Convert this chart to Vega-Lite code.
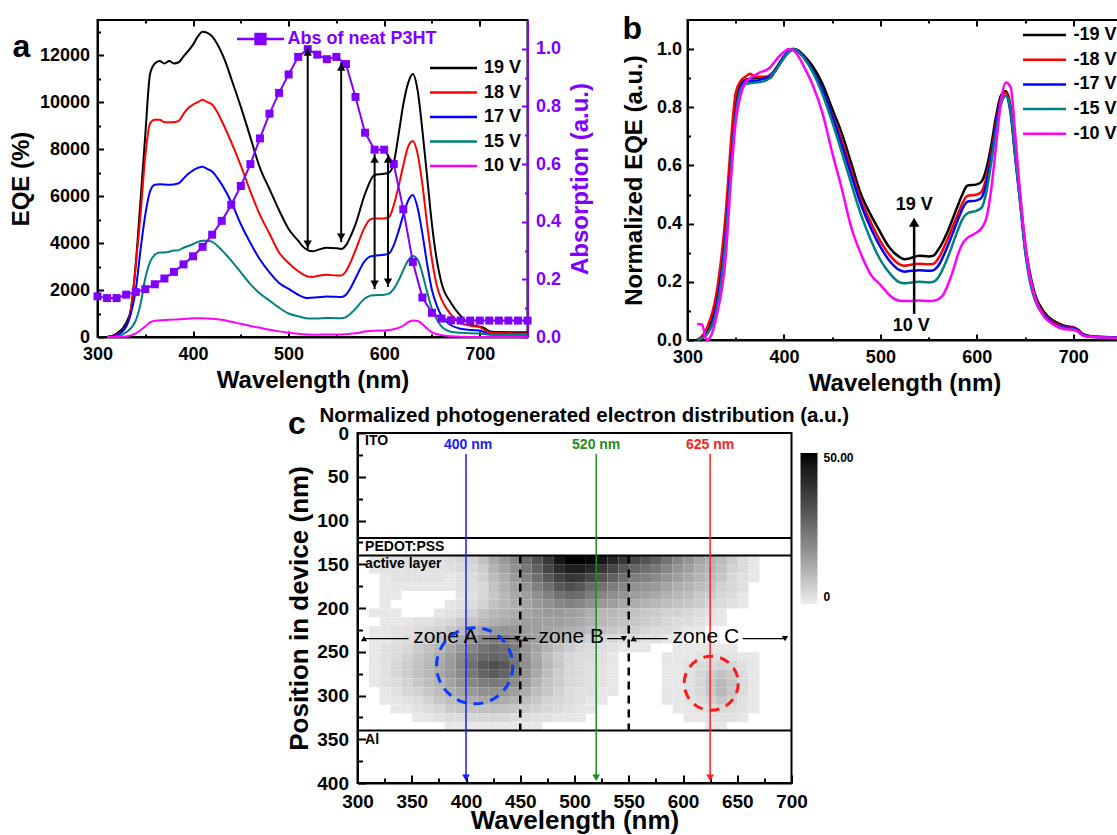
{
"$schema": "https://vega.github.io/schema/vega-lite/v6.json",
"background": "white",
"padding": {"left": 7.5, "top": 12, "right": 0, "bottom": 0},
"config": {
 "font": "Liberation Sans",
 "view": {"stroke": "black", "strokeWidth": 2},
 "axis": {"grid": false, "domainColor": "black", "domainWidth": 2, "tickColor": "black", "tickWidth": 2, "labelFont": "Liberation Sans", "labelFontWeight": "bold", "labelColor": "black", "labelFontSize": 18, "titleFont": "Liberation Sans", "titleFontWeight": "bold", "titleColor": "black", "titleFontSize": 24, "labelOverlap": false, "labelFlush": false},
 "title": {"font": "Liberation Sans", "fontWeight": "bold", "color": "black"}
},
"datasets": {
 "eqe": [
  {"w":310,"s":"19 V","e":0},{"w":320,"s":"19 V","e":150},{"w":330,"s":"19 V","e":600},{"w":335,"s":"19 V","e":1200},{"w":340,"s":"19 V","e":3100},{"w":345,"s":"19 V","e":5800},{"w":350,"s":"19 V","e":8600},{"w":355,"s":"19 V","e":11200},{"w":360,"s":"19 V","e":11650},{"w":365,"s":"19 V","e":11750},{"w":370,"s":"19 V","e":11650},{"w":375,"s":"19 V","e":11750},{"w":380,"s":"19 V","e":11650},{"w":385,"s":"19 V","e":11700},{"w":390,"s":"19 V","e":11950},{"w":400,"s":"19 V","e":12450},{"w":405,"s":"19 V","e":12800},{"w":410,"s":"19 V","e":13000},{"w":415,"s":"19 V","e":12950},{"w":420,"s":"19 V","e":12800},{"w":425,"s":"19 V","e":12500},{"w":430,"s":"19 V","e":12100},{"w":435,"s":"19 V","e":11600},{"w":440,"s":"19 V","e":11000},{"w":450,"s":"19 V","e":9800},{"w":460,"s":"19 V","e":8500},{"w":470,"s":"19 V","e":7200},{"w":480,"s":"19 V","e":6300},{"w":490,"s":"19 V","e":5400},{"w":500,"s":"19 V","e":4600},{"w":510,"s":"19 V","e":4100},{"w":515,"s":"19 V","e":3850},{"w":520,"s":"19 V","e":3700},{"w":525,"s":"19 V","e":3650},{"w":530,"s":"19 V","e":3700},{"w":540,"s":"19 V","e":3800},{"w":550,"s":"19 V","e":3780},{"w":555,"s":"19 V","e":3750},{"w":560,"s":"19 V","e":3900},{"w":565,"s":"19 V","e":4300},{"w":570,"s":"19 V","e":4800},{"w":580,"s":"19 V","e":6100},{"w":590,"s":"19 V","e":6900},{"w":600,"s":"19 V","e":6950},{"w":605,"s":"19 V","e":7000},{"w":610,"s":"19 V","e":7400},{"w":615,"s":"19 V","e":8600},{"w":620,"s":"19 V","e":9900},{"w":625,"s":"19 V","e":10800},{"w":630,"s":"19 V","e":11200},{"w":635,"s":"19 V","e":10500},{"w":640,"s":"19 V","e":8800},{"w":645,"s":"19 V","e":6800},{"w":650,"s":"19 V","e":4800},{"w":655,"s":"19 V","e":3300},{"w":660,"s":"19 V","e":2300},{"w":670,"s":"19 V","e":1450},{"w":680,"s":"19 V","e":900},{"w":690,"s":"19 V","e":550},{"w":700,"s":"19 V","e":440},{"w":705,"s":"19 V","e":380},{"w":710,"s":"19 V","e":250},{"w":720,"s":"19 V","e":210},{"w":750,"s":"19 V","e":200},
  {"w":310,"s":"18 V","e":0},{"w":320,"s":"18 V","e":100},{"w":330,"s":"18 V","e":450},{"w":335,"s":"18 V","e":1200},{"w":340,"s":"18 V","e":3000},{"w":345,"s":"18 V","e":5200},{"w":350,"s":"18 V","e":7700},{"w":355,"s":"18 V","e":9100},{"w":360,"s":"18 V","e":9250},{"w":365,"s":"18 V","e":9250},{"w":370,"s":"18 V","e":9150},{"w":380,"s":"18 V","e":9150},{"w":385,"s":"18 V","e":9200},{"w":390,"s":"18 V","e":9500},{"w":395,"s":"18 V","e":9750},{"w":400,"s":"18 V","e":9900},{"w":405,"s":"18 V","e":10000},{"w":410,"s":"18 V","e":10100},{"w":415,"s":"18 V","e":10000},{"w":420,"s":"18 V","e":9900},{"w":425,"s":"18 V","e":9600},{"w":430,"s":"18 V","e":9200},{"w":440,"s":"18 V","e":8300},{"w":450,"s":"18 V","e":7300},{"w":460,"s":"18 V","e":6200},{"w":470,"s":"18 V","e":5200},{"w":480,"s":"18 V","e":4400},{"w":490,"s":"18 V","e":3600},{"w":500,"s":"18 V","e":3150},{"w":510,"s":"18 V","e":2800},{"w":520,"s":"18 V","e":2580},{"w":525,"s":"18 V","e":2560},{"w":530,"s":"18 V","e":2600},{"w":540,"s":"18 V","e":2650},{"w":550,"s":"18 V","e":2620},{"w":555,"s":"18 V","e":2620},{"w":560,"s":"18 V","e":2800},{"w":565,"s":"18 V","e":3200},{"w":570,"s":"18 V","e":3700},{"w":580,"s":"18 V","e":4700},{"w":585,"s":"18 V","e":5000},{"w":590,"s":"18 V","e":5050},{"w":600,"s":"18 V","e":5050},{"w":605,"s":"18 V","e":5100},{"w":610,"s":"18 V","e":5600},{"w":615,"s":"18 V","e":6400},{"w":620,"s":"18 V","e":7300},{"w":625,"s":"18 V","e":8100},{"w":630,"s":"18 V","e":8350},{"w":635,"s":"18 V","e":7800},{"w":640,"s":"18 V","e":6500},{"w":645,"s":"18 V","e":4800},{"w":650,"s":"18 V","e":3300},{"w":655,"s":"18 V","e":2200},{"w":660,"s":"18 V","e":1600},{"w":670,"s":"18 V","e":950},{"w":680,"s":"18 V","e":600},{"w":690,"s":"18 V","e":480},{"w":700,"s":"18 V","e":420},{"w":705,"s":"18 V","e":300},{"w":710,"s":"18 V","e":200},{"w":720,"s":"18 V","e":170},{"w":750,"s":"18 V","e":150},
  {"w":310,"s":"17 V","e":0},{"w":320,"s":"17 V","e":80},{"w":330,"s":"17 V","e":450},{"w":335,"s":"17 V","e":1000},{"w":340,"s":"17 V","e":2000},{"w":345,"s":"17 V","e":3700},{"w":350,"s":"17 V","e":5200},{"w":355,"s":"17 V","e":6200},{"w":360,"s":"17 V","e":6480},{"w":365,"s":"17 V","e":6500},{"w":375,"s":"17 V","e":6480},{"w":385,"s":"17 V","e":6550},{"w":390,"s":"17 V","e":6750},{"w":395,"s":"17 V","e":6950},{"w":400,"s":"17 V","e":7100},{"w":405,"s":"17 V","e":7200},{"w":410,"s":"17 V","e":7250},{"w":415,"s":"17 V","e":7150},{"w":420,"s":"17 V","e":7050},{"w":425,"s":"17 V","e":6800},{"w":430,"s":"17 V","e":6500},{"w":440,"s":"17 V","e":5750},{"w":450,"s":"17 V","e":4800},{"w":460,"s":"17 V","e":4000},{"w":470,"s":"17 V","e":3300},{"w":480,"s":"17 V","e":2750},{"w":490,"s":"17 V","e":2300},{"w":500,"s":"17 V","e":2050},{"w":510,"s":"17 V","e":1800},{"w":520,"s":"17 V","e":1660},{"w":530,"s":"17 V","e":1690},{"w":540,"s":"17 V","e":1730},{"w":550,"s":"17 V","e":1710},{"w":555,"s":"17 V","e":1700},{"w":560,"s":"17 V","e":1800},{"w":565,"s":"17 V","e":2100},{"w":570,"s":"17 V","e":2500},{"w":580,"s":"17 V","e":3250},{"w":585,"s":"17 V","e":3420},{"w":590,"s":"17 V","e":3460},{"w":600,"s":"17 V","e":3500},{"w":605,"s":"17 V","e":3550},{"w":610,"s":"17 V","e":3900},{"w":615,"s":"17 V","e":4500},{"w":620,"s":"17 V","e":5200},{"w":625,"s":"17 V","e":5800},{"w":630,"s":"17 V","e":6050},{"w":635,"s":"17 V","e":5500},{"w":640,"s":"17 V","e":4400},{"w":645,"s":"17 V","e":3100},{"w":650,"s":"17 V","e":2000},{"w":655,"s":"17 V","e":1350},{"w":660,"s":"17 V","e":900},{"w":670,"s":"17 V","e":500},{"w":680,"s":"17 V","e":350},{"w":690,"s":"17 V","e":300},{"w":700,"s":"17 V","e":280},{"w":705,"s":"17 V","e":200},{"w":710,"s":"17 V","e":120},{"w":720,"s":"17 V","e":100},{"w":750,"s":"17 V","e":80},
  {"w":310,"s":"15 V","e":0},{"w":320,"s":"15 V","e":30},{"w":330,"s":"15 V","e":200},{"w":340,"s":"15 V","e":700},{"w":345,"s":"15 V","e":1400},{"w":350,"s":"15 V","e":2500},{"w":355,"s":"15 V","e":3200},{"w":360,"s":"15 V","e":3500},{"w":365,"s":"15 V","e":3600},{"w":370,"s":"15 V","e":3600},{"w":380,"s":"15 V","e":3680},{"w":385,"s":"15 V","e":3700},{"w":390,"s":"15 V","e":3800},{"w":400,"s":"15 V","e":3950},{"w":405,"s":"15 V","e":4050},{"w":410,"s":"15 V","e":4100},{"w":415,"s":"15 V","e":4100},{"w":420,"s":"15 V","e":4050},{"w":430,"s":"15 V","e":3700},{"w":440,"s":"15 V","e":3250},{"w":450,"s":"15 V","e":2750},{"w":460,"s":"15 V","e":2250},{"w":470,"s":"15 V","e":1850},{"w":480,"s":"15 V","e":1550},{"w":490,"s":"15 V","e":1250},{"w":500,"s":"15 V","e":1000},{"w":510,"s":"15 V","e":880},{"w":520,"s":"15 V","e":790},{"w":530,"s":"15 V","e":790},{"w":540,"s":"15 V","e":810},{"w":550,"s":"15 V","e":800},{"w":555,"s":"15 V","e":800},{"w":560,"s":"15 V","e":850},{"w":565,"s":"15 V","e":1000},{"w":570,"s":"15 V","e":1200},{"w":580,"s":"15 V","e":1650},{"w":585,"s":"15 V","e":1750},{"w":590,"s":"15 V","e":1780},{"w":600,"s":"15 V","e":1800},{"w":605,"s":"15 V","e":1850},{"w":610,"s":"15 V","e":2050},{"w":615,"s":"15 V","e":2400},{"w":620,"s":"15 V","e":2850},{"w":625,"s":"15 V","e":3250},{"w":630,"s":"15 V","e":3450},{"w":635,"s":"15 V","e":3300},{"w":640,"s":"15 V","e":2700},{"w":645,"s":"15 V","e":1900},{"w":650,"s":"15 V","e":1200},{"w":655,"s":"15 V","e":750},{"w":660,"s":"15 V","e":450},{"w":670,"s":"15 V","e":220},{"w":680,"s":"15 V","e":180},{"w":700,"s":"15 V","e":150},{"w":710,"s":"15 V","e":100},{"w":750,"s":"15 V","e":80},
  {"w":310,"s":"10 V","e":0},{"w":320,"s":"10 V","e":0},{"w":330,"s":"10 V","e":20},{"w":340,"s":"10 V","e":150},{"w":350,"s":"10 V","e":450},{"w":355,"s":"10 V","e":620},{"w":360,"s":"10 V","e":690},{"w":370,"s":"10 V","e":720},{"w":380,"s":"10 V","e":740},{"w":390,"s":"10 V","e":770},{"w":400,"s":"10 V","e":800},{"w":410,"s":"10 V","e":800},{"w":420,"s":"10 V","e":780},{"w":430,"s":"10 V","e":730},{"w":440,"s":"10 V","e":650},{"w":450,"s":"10 V","e":560},{"w":460,"s":"10 V","e":470},{"w":470,"s":"10 V","e":390},{"w":480,"s":"10 V","e":310},{"w":490,"s":"10 V","e":240},{"w":500,"s":"10 V","e":180},{"w":510,"s":"10 V","e":140},{"w":520,"s":"10 V","e":110},{"w":530,"s":"10 V","e":100},{"w":540,"s":"10 V","e":105},{"w":550,"s":"10 V","e":105},{"w":560,"s":"10 V","e":120},{"w":570,"s":"10 V","e":160},{"w":580,"s":"10 V","e":230},{"w":590,"s":"10 V","e":270},{"w":600,"s":"10 V","e":280},{"w":610,"s":"10 V","e":330},{"w":620,"s":"10 V","e":480},{"w":625,"s":"10 V","e":630},{"w":630,"s":"10 V","e":700},{"w":635,"s":"10 V","e":680},{"w":640,"s":"10 V","e":550},{"w":645,"s":"10 V","e":350},{"w":650,"s":"10 V","e":200},{"w":660,"s":"10 V","e":80},{"w":670,"s":"10 V","e":30},{"w":680,"s":"10 V","e":10},{"w":700,"s":"10 V","e":0},{"w":750,"s":"10 V","e":0}
 ],
 "abs": [
  {"w":300,"a":0.141},{"w":310,"a":0.135},{"w":320,"a":0.135},{"w":330,"a":0.147},{"w":340,"a":0.156},{"w":350,"a":0.166},{"w":360,"a":0.183},{"w":370,"a":0.203},{"w":380,"a":0.226},{"w":390,"a":0.252},{"w":400,"a":0.28},{"w":410,"a":0.313},{"w":420,"a":0.355},{"w":430,"a":0.403},{"w":440,"a":0.459},{"w":450,"a":0.524},{"w":460,"a":0.6},{"w":470,"a":0.689},{"w":480,"a":0.775},{"w":490,"a":0.847},{"w":500,"a":0.911},{"w":510,"a":0.972},{"w":520,"a":0.999},{"w":530,"a":0.98},{"w":540,"a":0.964},{"w":550,"a":0.972},{"w":560,"a":0.947},{"w":570,"a":0.833},{"w":580,"a":0.709},{"w":590,"a":0.65},{"w":600,"a":0.65},{"w":610,"a":0.6},{"w":620,"a":0.443},{"w":630,"a":0.26},{"w":640,"a":0.137},{"w":650,"a":0.084},{"w":660,"a":0.064},{"w":670,"a":0.058},{"w":680,"a":0.057},{"w":690,"a":0.057},{"w":700,"a":0.057},{"w":710,"a":0.057},{"w":720,"a":0.057},{"w":730,"a":0.057},{"w":740,"a":0.057},{"w":750,"a":0.057}
 ],
 "norm": [
  {"w":310,"s":"-19 V","n":0},{"w":320,"s":"-19 V","n":0.03},{"w":330,"s":"-19 V","n":0.14},{"w":340,"s":"-19 V","n":0.36},{"w":345,"s":"-19 V","n":0.6},{"w":350,"s":"-19 V","n":0.8},{"w":355,"s":"-19 V","n":0.88},{"w":360,"s":"-19 V","n":0.895},{"w":370,"s":"-19 V","n":0.9},{"w":380,"s":"-19 V","n":0.9},{"w":385,"s":"-19 V","n":0.9},{"w":390,"s":"-19 V","n":0.92},{"w":395,"s":"-19 V","n":0.945},{"w":400,"s":"-19 V","n":0.97},{"w":405,"s":"-19 V","n":0.99},{"w":410,"s":"-19 V","n":1.0},{"w":415,"s":"-19 V","n":0.995},{"w":420,"s":"-19 V","n":0.98},{"w":430,"s":"-19 V","n":0.94},{"w":440,"s":"-19 V","n":0.88},{"w":450,"s":"-19 V","n":0.795},{"w":460,"s":"-19 V","n":0.71},{"w":470,"s":"-19 V","n":0.605},{"w":480,"s":"-19 V","n":0.5},{"w":490,"s":"-19 V","n":0.43},{"w":500,"s":"-19 V","n":0.37},{"w":505,"s":"-19 V","n":0.34},{"w":510,"s":"-19 V","n":0.315},{"w":520,"s":"-19 V","n":0.285},{"w":525,"s":"-19 V","n":0.278},{"w":530,"s":"-19 V","n":0.28},{"w":540,"s":"-19 V","n":0.29},{"w":550,"s":"-19 V","n":0.287},{"w":555,"s":"-19 V","n":0.29},{"w":560,"s":"-19 V","n":0.31},{"w":570,"s":"-19 V","n":0.375},{"w":580,"s":"-19 V","n":0.46},{"w":585,"s":"-19 V","n":0.5},{"w":590,"s":"-19 V","n":0.53},{"w":600,"s":"-19 V","n":0.535},{"w":605,"s":"-19 V","n":0.545},{"w":610,"s":"-19 V","n":0.59},{"w":615,"s":"-19 V","n":0.67},{"w":620,"s":"-19 V","n":0.77},{"w":625,"s":"-19 V","n":0.84},{"w":630,"s":"-19 V","n":0.855},{"w":635,"s":"-19 V","n":0.8},{"w":640,"s":"-19 V","n":0.64},{"w":645,"s":"-19 V","n":0.49},{"w":650,"s":"-19 V","n":0.33},{"w":655,"s":"-19 V","n":0.23},{"w":660,"s":"-19 V","n":0.16},{"w":670,"s":"-19 V","n":0.095},{"w":680,"s":"-19 V","n":0.065},{"w":690,"s":"-19 V","n":0.05},{"w":700,"s":"-19 V","n":0.042},{"w":705,"s":"-19 V","n":0.035},{"w":710,"s":"-19 V","n":0.02},{"w":720,"s":"-19 V","n":0.012},{"w":750,"s":"-19 V","n":0.008},
  {"w":310,"s":"-18 V","n":0},{"w":320,"s":"-18 V","n":0.04},{"w":330,"s":"-18 V","n":0.16},{"w":340,"s":"-18 V","n":0.45},{"w":345,"s":"-18 V","n":0.68},{"w":350,"s":"-18 V","n":0.85},{"w":355,"s":"-18 V","n":0.89},{"w":360,"s":"-18 V","n":0.905},{"w":365,"s":"-18 V","n":0.915},{"w":370,"s":"-18 V","n":0.905},{"w":380,"s":"-18 V","n":0.905},{"w":385,"s":"-18 V","n":0.91},{"w":390,"s":"-18 V","n":0.925},{"w":395,"s":"-18 V","n":0.95},{"w":400,"s":"-18 V","n":0.975},{"w":405,"s":"-18 V","n":0.995},{"w":410,"s":"-18 V","n":1.0},{"w":415,"s":"-18 V","n":0.99},{"w":420,"s":"-18 V","n":0.975},{"w":430,"s":"-18 V","n":0.925},{"w":440,"s":"-18 V","n":0.86},{"w":450,"s":"-18 V","n":0.775},{"w":460,"s":"-18 V","n":0.685},{"w":470,"s":"-18 V","n":0.58},{"w":480,"s":"-18 V","n":0.48},{"w":490,"s":"-18 V","n":0.405},{"w":500,"s":"-18 V","n":0.34},{"w":510,"s":"-18 V","n":0.29},{"w":520,"s":"-18 V","n":0.26},{"w":525,"s":"-18 V","n":0.255},{"w":530,"s":"-18 V","n":0.258},{"w":540,"s":"-18 V","n":0.262},{"w":550,"s":"-18 V","n":0.26},{"w":555,"s":"-18 V","n":0.262},{"w":560,"s":"-18 V","n":0.28},{"w":570,"s":"-18 V","n":0.35},{"w":580,"s":"-18 V","n":0.43},{"w":585,"s":"-18 V","n":0.47},{"w":590,"s":"-18 V","n":0.495},{"w":600,"s":"-18 V","n":0.5},{"w":605,"s":"-18 V","n":0.51},{"w":610,"s":"-18 V","n":0.56},{"w":615,"s":"-18 V","n":0.645},{"w":620,"s":"-18 V","n":0.75},{"w":625,"s":"-18 V","n":0.83},{"w":630,"s":"-18 V","n":0.85},{"w":635,"s":"-18 V","n":0.79},{"w":640,"s":"-18 V","n":0.63},{"w":645,"s":"-18 V","n":0.48},{"w":650,"s":"-18 V","n":0.32},{"w":655,"s":"-18 V","n":0.22},{"w":660,"s":"-18 V","n":0.15},{"w":670,"s":"-18 V","n":0.088},{"w":680,"s":"-18 V","n":0.06},{"w":690,"s":"-18 V","n":0.046},{"w":700,"s":"-18 V","n":0.045},{"w":705,"s":"-18 V","n":0.035},{"w":710,"s":"-18 V","n":0.02},{"w":720,"s":"-18 V","n":0.012},{"w":750,"s":"-18 V","n":0.008},
  {"w":310,"s":"-17 V","n":0},{"w":320,"s":"-17 V","n":0.02},{"w":330,"s":"-17 V","n":0.12},{"w":340,"s":"-17 V","n":0.38},{"w":345,"s":"-17 V","n":0.6},{"w":350,"s":"-17 V","n":0.78},{"w":355,"s":"-17 V","n":0.87},{"w":360,"s":"-17 V","n":0.89},{"w":370,"s":"-17 V","n":0.89},{"w":380,"s":"-17 V","n":0.9},{"w":385,"s":"-17 V","n":0.905},{"w":390,"s":"-17 V","n":0.925},{"w":395,"s":"-17 V","n":0.95},{"w":400,"s":"-17 V","n":0.975},{"w":405,"s":"-17 V","n":0.993},{"w":410,"s":"-17 V","n":1.0},{"w":415,"s":"-17 V","n":0.992},{"w":420,"s":"-17 V","n":0.975},{"w":430,"s":"-17 V","n":0.925},{"w":440,"s":"-17 V","n":0.86},{"w":450,"s":"-17 V","n":0.77},{"w":460,"s":"-17 V","n":0.67},{"w":470,"s":"-17 V","n":0.565},{"w":480,"s":"-17 V","n":0.465},{"w":490,"s":"-17 V","n":0.385},{"w":500,"s":"-17 V","n":0.32},{"w":510,"s":"-17 V","n":0.27},{"w":520,"s":"-17 V","n":0.24},{"w":525,"s":"-17 V","n":0.235},{"w":530,"s":"-17 V","n":0.237},{"w":540,"s":"-17 V","n":0.24},{"w":550,"s":"-17 V","n":0.238},{"w":555,"s":"-17 V","n":0.24},{"w":560,"s":"-17 V","n":0.255},{"w":570,"s":"-17 V","n":0.325},{"w":580,"s":"-17 V","n":0.41},{"w":585,"s":"-17 V","n":0.45},{"w":590,"s":"-17 V","n":0.475},{"w":600,"s":"-17 V","n":0.48},{"w":605,"s":"-17 V","n":0.49},{"w":610,"s":"-17 V","n":0.54},{"w":615,"s":"-17 V","n":0.63},{"w":620,"s":"-17 V","n":0.74},{"w":625,"s":"-17 V","n":0.82},{"w":630,"s":"-17 V","n":0.84},{"w":635,"s":"-17 V","n":0.78},{"w":640,"s":"-17 V","n":0.62},{"w":645,"s":"-17 V","n":0.47},{"w":650,"s":"-17 V","n":0.31},{"w":655,"s":"-17 V","n":0.21},{"w":660,"s":"-17 V","n":0.145},{"w":670,"s":"-17 V","n":0.083},{"w":680,"s":"-17 V","n":0.056},{"w":690,"s":"-17 V","n":0.043},{"w":700,"s":"-17 V","n":0.042},{"w":705,"s":"-17 V","n":0.032},{"w":710,"s":"-17 V","n":0.018},{"w":720,"s":"-17 V","n":0.011},{"w":750,"s":"-17 V","n":0.008},
  {"w":310,"s":"-15 V","n":0},{"w":320,"s":"-15 V","n":0.02},{"w":330,"s":"-15 V","n":0.1},{"w":340,"s":"-15 V","n":0.36},{"w":345,"s":"-15 V","n":0.58},{"w":350,"s":"-15 V","n":0.77},{"w":355,"s":"-15 V","n":0.86},{"w":360,"s":"-15 V","n":0.88},{"w":370,"s":"-15 V","n":0.885},{"w":380,"s":"-15 V","n":0.89},{"w":385,"s":"-15 V","n":0.9},{"w":390,"s":"-15 V","n":0.92},{"w":395,"s":"-15 V","n":0.945},{"w":400,"s":"-15 V","n":0.97},{"w":405,"s":"-15 V","n":0.99},{"w":410,"s":"-15 V","n":1.0},{"w":415,"s":"-15 V","n":0.99},{"w":420,"s":"-15 V","n":0.972},{"w":430,"s":"-15 V","n":0.92},{"w":440,"s":"-15 V","n":0.845},{"w":450,"s":"-15 V","n":0.75},{"w":460,"s":"-15 V","n":0.645},{"w":470,"s":"-15 V","n":0.535},{"w":480,"s":"-15 V","n":0.43},{"w":490,"s":"-15 V","n":0.345},{"w":500,"s":"-15 V","n":0.275},{"w":510,"s":"-15 V","n":0.228},{"w":520,"s":"-15 V","n":0.198},{"w":525,"s":"-15 V","n":0.195},{"w":530,"s":"-15 V","n":0.197},{"w":540,"s":"-15 V","n":0.2},{"w":550,"s":"-15 V","n":0.198},{"w":555,"s":"-15 V","n":0.2},{"w":560,"s":"-15 V","n":0.215},{"w":570,"s":"-15 V","n":0.285},{"w":580,"s":"-15 V","n":0.375},{"w":585,"s":"-15 V","n":0.415},{"w":590,"s":"-15 V","n":0.435},{"w":600,"s":"-15 V","n":0.445},{"w":605,"s":"-15 V","n":0.455},{"w":610,"s":"-15 V","n":0.51},{"w":615,"s":"-15 V","n":0.61},{"w":620,"s":"-15 V","n":0.72},{"w":625,"s":"-15 V","n":0.81},{"w":630,"s":"-15 V","n":0.84},{"w":635,"s":"-15 V","n":0.79},{"w":640,"s":"-15 V","n":0.63},{"w":645,"s":"-15 V","n":0.47},{"w":650,"s":"-15 V","n":0.31},{"w":655,"s":"-15 V","n":0.2},{"w":660,"s":"-15 V","n":0.14},{"w":670,"s":"-15 V","n":0.08},{"w":680,"s":"-15 V","n":0.053},{"w":690,"s":"-15 V","n":0.04},{"w":700,"s":"-15 V","n":0.038},{"w":705,"s":"-15 V","n":0.03},{"w":710,"s":"-15 V","n":0.016},{"w":720,"s":"-15 V","n":0.01},{"w":750,"s":"-15 V","n":0.007},
  {"w":310,"s":"-10 V","n":0.055},{"w":315,"s":"-10 V","n":0.053},{"w":320,"s":"-10 V","n":0.0},{"w":325,"s":"-10 V","n":0.02},{"w":330,"s":"-10 V","n":0.08},{"w":340,"s":"-10 V","n":0.3},{"w":345,"s":"-10 V","n":0.55},{"w":350,"s":"-10 V","n":0.75},{"w":355,"s":"-10 V","n":0.84},{"w":360,"s":"-10 V","n":0.885},{"w":365,"s":"-10 V","n":0.9},{"w":370,"s":"-10 V","n":0.91},{"w":375,"s":"-10 V","n":0.92},{"w":380,"s":"-10 V","n":0.925},{"w":385,"s":"-10 V","n":0.935},{"w":390,"s":"-10 V","n":0.955},{"w":395,"s":"-10 V","n":0.975},{"w":400,"s":"-10 V","n":0.99},{"w":405,"s":"-10 V","n":1.0},{"w":410,"s":"-10 V","n":0.995},{"w":415,"s":"-10 V","n":0.975},{"w":420,"s":"-10 V","n":0.945},{"w":430,"s":"-10 V","n":0.875},{"w":440,"s":"-10 V","n":0.78},{"w":450,"s":"-10 V","n":0.645},{"w":460,"s":"-10 V","n":0.52},{"w":470,"s":"-10 V","n":0.385},{"w":480,"s":"-10 V","n":0.295},{"w":490,"s":"-10 V","n":0.225},{"w":500,"s":"-10 V","n":0.19},{"w":510,"s":"-10 V","n":0.152},{"w":520,"s":"-10 V","n":0.135},{"w":525,"s":"-10 V","n":0.134},{"w":530,"s":"-10 V","n":0.134},{"w":540,"s":"-10 V","n":0.136},{"w":550,"s":"-10 V","n":0.134},{"w":555,"s":"-10 V","n":0.135},{"w":560,"s":"-10 V","n":0.14},{"w":565,"s":"-10 V","n":0.155},{"w":570,"s":"-10 V","n":0.19},{"w":575,"s":"-10 V","n":0.235},{"w":580,"s":"-10 V","n":0.29},{"w":585,"s":"-10 V","n":0.33},{"w":590,"s":"-10 V","n":0.35},{"w":600,"s":"-10 V","n":0.37},{"w":605,"s":"-10 V","n":0.385},{"w":610,"s":"-10 V","n":0.42},{"w":615,"s":"-10 V","n":0.52},{"w":620,"s":"-10 V","n":0.67},{"w":625,"s":"-10 V","n":0.82},{"w":630,"s":"-10 V","n":0.885},{"w":635,"s":"-10 V","n":0.87},{"w":640,"s":"-10 V","n":0.7},{"w":645,"s":"-10 V","n":0.5},{"w":650,"s":"-10 V","n":0.34},{"w":655,"s":"-10 V","n":0.22},{"w":660,"s":"-10 V","n":0.15},{"w":670,"s":"-10 V","n":0.08},{"w":680,"s":"-10 V","n":0.052},{"w":690,"s":"-10 V","n":0.038},{"w":700,"s":"-10 V","n":0.035},{"w":705,"s":"-10 V","n":0.028},{"w":710,"s":"-10 V","n":0.015},{"w":720,"s":"-10 V","n":0.01},{"w":750,"s":"-10 V","n":0.007}
 ],
 "heat": [
  {"w":310,"p":140,"v":1},{"w":320,"p":140,"v":2},{"w":330,"p":140,"v":2},{"w":340,"p":140,"v":2},{"w":350,"p":140,"v":2},{"w":360,"p":140,"v":2},{"w":370,"p":140,"v":2},{"w":380,"p":140,"v":3},{"w":390,"p":140,"v":4},{"w":400,"p":140,"v":5},{"w":410,"p":140,"v":8},{"w":420,"p":140,"v":13},{"w":430,"p":140,"v":16},{"w":440,"p":140,"v":20},{"w":450,"p":140,"v":26},{"w":460,"p":140,"v":31},{"w":470,"p":140,"v":37},{"w":480,"p":140,"v":46},{"w":490,"p":140,"v":50},{"w":500,"p":140,"v":50},{"w":510,"p":140,"v":49},{"w":520,"p":140,"v":46},{"w":530,"p":140,"v":42},{"w":540,"p":140,"v":38},{"w":550,"p":140,"v":34},{"w":560,"p":140,"v":31},{"w":570,"p":140,"v":28},{"w":580,"p":140,"v":24},{"w":590,"p":140,"v":20},{"w":600,"p":140,"v":17},{"w":610,"p":140,"v":14},{"w":620,"p":140,"v":11},{"w":630,"p":140,"v":9},{"w":640,"p":140,"v":6},{"w":650,"p":140,"v":3},{"w":660,"p":140,"v":1},
  {"w":310,"p":150,"v":1},{"w":320,"p":150,"v":2},{"w":330,"p":150,"v":2},{"w":340,"p":150,"v":2},{"w":350,"p":150,"v":2},{"w":360,"p":150,"v":2},{"w":370,"p":150,"v":2},{"w":380,"p":150,"v":2},{"w":390,"p":150,"v":3},{"w":400,"p":150,"v":4},{"w":410,"p":150,"v":6},{"w":420,"p":150,"v":11},{"w":430,"p":150,"v":14},{"w":440,"p":150,"v":18},{"w":450,"p":150,"v":23},{"w":460,"p":150,"v":28},{"w":470,"p":150,"v":34},{"w":480,"p":150,"v":40},{"w":490,"p":150,"v":44},{"w":500,"p":150,"v":44},{"w":510,"p":150,"v":42},{"w":520,"p":150,"v":38},{"w":530,"p":150,"v":34},{"w":540,"p":150,"v":30},{"w":550,"p":150,"v":27},{"w":560,"p":150,"v":25},{"w":570,"p":150,"v":23},{"w":580,"p":150,"v":20},{"w":590,"p":150,"v":17},{"w":600,"p":150,"v":15},{"w":610,"p":150,"v":12},{"w":620,"p":150,"v":10},{"w":630,"p":150,"v":8},{"w":640,"p":150,"v":5},{"w":650,"p":150,"v":3},{"w":660,"p":150,"v":1},
  {"w":320,"p":160,"v":1},{"w":330,"p":160,"v":2},{"w":340,"p":160,"v":2},{"w":350,"p":160,"v":2},{"w":360,"p":160,"v":2},{"w":370,"p":160,"v":2},{"w":380,"p":160,"v":1},{"w":390,"p":160,"v":2},{"w":400,"p":160,"v":3},{"w":410,"p":160,"v":5},{"w":420,"p":160,"v":9},{"w":430,"p":160,"v":12},{"w":440,"p":160,"v":16},{"w":450,"p":160,"v":20},{"w":460,"p":160,"v":25},{"w":470,"p":160,"v":30},{"w":480,"p":160,"v":35},{"w":490,"p":160,"v":38},{"w":500,"p":160,"v":37},{"w":510,"p":160,"v":34},{"w":520,"p":160,"v":31},{"w":530,"p":160,"v":28},{"w":540,"p":160,"v":25},{"w":550,"p":160,"v":22},{"w":560,"p":160,"v":21},{"w":570,"p":160,"v":19},{"w":580,"p":160,"v":17},{"w":590,"p":160,"v":15},{"w":600,"p":160,"v":13},{"w":610,"p":160,"v":11},{"w":620,"p":160,"v":9},{"w":630,"p":160,"v":7},{"w":640,"p":160,"v":4},{"w":650,"p":160,"v":2},{"w":660,"p":160,"v":1},
  {"w":320,"p":170,"v":1},{"w":330,"p":170,"v":1},{"w":340,"p":170,"v":1},{"w":350,"p":170,"v":1},{"w":360,"p":170,"v":1},{"w":370,"p":170,"v":1},{"w":380,"p":170,"v":1},{"w":390,"p":170,"v":2},{"w":400,"p":170,"v":3},{"w":410,"p":170,"v":4},{"w":420,"p":170,"v":8},{"w":430,"p":170,"v":11},{"w":440,"p":170,"v":14},{"w":450,"p":170,"v":17},{"w":460,"p":170,"v":21},{"w":470,"p":170,"v":25},{"w":480,"p":170,"v":30},{"w":490,"p":170,"v":32},{"w":500,"p":170,"v":30},{"w":510,"p":170,"v":26},{"w":520,"p":170,"v":24},{"w":530,"p":170,"v":22},{"w":540,"p":170,"v":20},{"w":550,"p":170,"v":18},{"w":560,"p":170,"v":17},{"w":570,"p":170,"v":16},{"w":580,"p":170,"v":14},{"w":590,"p":170,"v":12},{"w":600,"p":170,"v":11},{"w":610,"p":170,"v":9},{"w":620,"p":170,"v":8},{"w":630,"p":170,"v":5},{"w":640,"p":170,"v":4},{"w":650,"p":170,"v":2},
  {"w":320,"p":180,"v":1},{"w":330,"p":180,"v":1},{"w":390,"p":180,"v":1},{"w":400,"p":180,"v":2},{"w":410,"p":180,"v":4},{"w":420,"p":180,"v":7},{"w":430,"p":180,"v":10},{"w":440,"p":180,"v":13},{"w":450,"p":180,"v":15},{"w":460,"p":180,"v":18},{"w":470,"p":180,"v":21},{"w":480,"p":180,"v":24},{"w":490,"p":180,"v":26},{"w":500,"p":180,"v":25},{"w":510,"p":180,"v":22},{"w":520,"p":180,"v":20},{"w":530,"p":180,"v":18},{"w":540,"p":180,"v":17},{"w":550,"p":180,"v":15},{"w":560,"p":180,"v":14},{"w":570,"p":180,"v":13},{"w":580,"p":180,"v":11},{"w":590,"p":180,"v":10},{"w":600,"p":180,"v":9},{"w":610,"p":180,"v":7},{"w":620,"p":180,"v":6},{"w":630,"p":180,"v":4},{"w":640,"p":180,"v":3},{"w":650,"p":180,"v":1},
  {"w":320,"p":190,"v":1},{"w":380,"p":190,"v":1},{"w":390,"p":190,"v":2},{"w":400,"p":190,"v":3},{"w":410,"p":190,"v":5},{"w":420,"p":190,"v":8},{"w":430,"p":190,"v":10},{"w":440,"p":190,"v":12},{"w":450,"p":190,"v":14},{"w":460,"p":190,"v":16},{"w":470,"p":190,"v":18},{"w":480,"p":190,"v":20},{"w":490,"p":190,"v":21},{"w":500,"p":190,"v":20},{"w":510,"p":190,"v":18},{"w":520,"p":190,"v":16},{"w":530,"p":190,"v":15},{"w":540,"p":190,"v":13},{"w":550,"p":190,"v":12},{"w":560,"p":190,"v":11},{"w":570,"p":190,"v":10},{"w":580,"p":190,"v":9},{"w":590,"p":190,"v":8},{"w":600,"p":190,"v":7},{"w":610,"p":190,"v":6},{"w":620,"p":190,"v":4},{"w":630,"p":190,"v":3},{"w":640,"p":190,"v":2},{"w":650,"p":190,"v":1},
  {"w":310,"p":200,"v":1},{"w":320,"p":200,"v":1},{"w":330,"p":200,"v":1},{"w":370,"p":200,"v":1},{"w":380,"p":200,"v":2},{"w":390,"p":200,"v":3},{"w":400,"p":200,"v":5},{"w":410,"p":200,"v":8},{"w":420,"p":200,"v":10},{"w":430,"p":200,"v":11},{"w":440,"p":200,"v":12},{"w":450,"p":200,"v":14},{"w":460,"p":200,"v":15},{"w":470,"p":200,"v":16},{"w":480,"p":200,"v":16},{"w":490,"p":200,"v":15},{"w":500,"p":200,"v":14},{"w":510,"p":200,"v":12},{"w":520,"p":200,"v":10},{"w":530,"p":200,"v":10},{"w":540,"p":200,"v":9},{"w":550,"p":200,"v":8},{"w":560,"p":200,"v":7},{"w":570,"p":200,"v":6},{"w":580,"p":200,"v":5},{"w":590,"p":200,"v":5},{"w":600,"p":200,"v":4},{"w":610,"p":200,"v":3},{"w":620,"p":200,"v":2},{"w":630,"p":200,"v":1},
  {"w":320,"p":210,"v":1},{"w":330,"p":210,"v":1},{"w":340,"p":210,"v":1},{"w":350,"p":210,"v":2},{"w":360,"p":210,"v":2},{"w":370,"p":210,"v":3},{"w":380,"p":210,"v":4},{"w":390,"p":210,"v":6},{"w":400,"p":210,"v":8},{"w":410,"p":210,"v":10},{"w":420,"p":210,"v":12},{"w":430,"p":210,"v":13},{"w":440,"p":210,"v":14},{"w":450,"p":210,"v":15},{"w":460,"p":210,"v":15},{"w":470,"p":210,"v":15},{"w":480,"p":210,"v":15},{"w":490,"p":210,"v":14},{"w":500,"p":210,"v":13},{"w":510,"p":210,"v":11},{"w":520,"p":210,"v":10},{"w":530,"p":210,"v":9},{"w":540,"p":210,"v":8},{"w":550,"p":210,"v":7},{"w":560,"p":210,"v":6},{"w":570,"p":210,"v":5},{"w":580,"p":210,"v":4},{"w":590,"p":210,"v":3},{"w":600,"p":210,"v":3},{"w":610,"p":210,"v":2},{"w":620,"p":210,"v":1},{"w":630,"p":210,"v":1},
  {"w":310,"p":220,"v":1},{"w":320,"p":220,"v":1},{"w":330,"p":220,"v":2},{"w":340,"p":220,"v":2},{"w":350,"p":220,"v":3},{"w":360,"p":220,"v":4},{"w":370,"p":220,"v":5},{"w":380,"p":220,"v":7},{"w":390,"p":220,"v":9},{"w":400,"p":220,"v":12},{"w":410,"p":220,"v":14},{"w":420,"p":220,"v":16},{"w":430,"p":220,"v":17},{"w":440,"p":220,"v":17},{"w":450,"p":220,"v":16},{"w":460,"p":220,"v":15},{"w":470,"p":220,"v":14},{"w":480,"p":220,"v":13},{"w":490,"p":220,"v":12},{"w":500,"p":220,"v":11},{"w":510,"p":220,"v":9},{"w":520,"p":220,"v":8},{"w":530,"p":220,"v":7},{"w":540,"p":220,"v":6},{"w":550,"p":220,"v":5},{"w":560,"p":220,"v":4},{"w":570,"p":220,"v":3},{"w":580,"p":220,"v":3},{"w":590,"p":220,"v":2},{"w":600,"p":220,"v":1},{"w":610,"p":220,"v":1},
  {"w":310,"p":230,"v":1},{"w":320,"p":230,"v":1},{"w":330,"p":230,"v":2},{"w":340,"p":230,"v":3},{"w":350,"p":230,"v":4},{"w":360,"p":230,"v":6},{"w":370,"p":230,"v":8},{"w":380,"p":230,"v":10},{"w":390,"p":230,"v":13},{"w":400,"p":230,"v":17},{"w":410,"p":230,"v":20},{"w":420,"p":230,"v":22},{"w":430,"p":230,"v":22},{"w":440,"p":230,"v":20},{"w":450,"p":230,"v":17},{"w":460,"p":230,"v":15},{"w":470,"p":230,"v":13},{"w":480,"p":230,"v":11},{"w":490,"p":230,"v":9},{"w":500,"p":230,"v":7},{"w":510,"p":230,"v":5},{"w":520,"p":230,"v":4},{"w":530,"p":230,"v":4},{"w":540,"p":230,"v":3},{"w":550,"p":230,"v":3},{"w":560,"p":230,"v":2},{"w":570,"p":230,"v":2},{"w":580,"p":230,"v":1},{"w":590,"p":230,"v":1},
  {"w":310,"p":240,"v":1},{"w":320,"p":240,"v":2},{"w":330,"p":240,"v":3},{"w":340,"p":240,"v":4},{"w":350,"p":240,"v":6},{"w":360,"p":240,"v":8},{"w":370,"p":240,"v":10},{"w":380,"p":240,"v":13},{"w":390,"p":240,"v":16},{"w":400,"p":240,"v":20},{"w":410,"p":240,"v":24},{"w":420,"p":240,"v":26},{"w":430,"p":240,"v":25},{"w":440,"p":240,"v":22},{"w":450,"p":240,"v":17},{"w":460,"p":240,"v":14},{"w":470,"p":240,"v":11},{"w":480,"p":240,"v":8},{"w":490,"p":240,"v":6},{"w":500,"p":240,"v":4},{"w":510,"p":240,"v":3},{"w":520,"p":240,"v":3},{"w":530,"p":240,"v":2},{"w":540,"p":240,"v":1},{"w":550,"p":240,"v":1},{"w":560,"p":240,"v":1},{"w":590,"p":240,"v":1},{"w":600,"p":240,"v":1},{"w":610,"p":240,"v":1},{"w":620,"p":240,"v":1},{"w":630,"p":240,"v":1},{"w":640,"p":240,"v":1},
  {"w":310,"p":250,"v":1},{"w":320,"p":250,"v":2},{"w":330,"p":250,"v":3},{"w":340,"p":250,"v":5},{"w":350,"p":250,"v":7},{"w":360,"p":250,"v":9},{"w":370,"p":250,"v":12},{"w":380,"p":250,"v":15},{"w":390,"p":250,"v":19},{"w":400,"p":250,"v":23},{"w":410,"p":250,"v":26},{"w":420,"p":250,"v":27},{"w":430,"p":250,"v":26},{"w":440,"p":250,"v":22},{"w":450,"p":250,"v":17},{"w":460,"p":250,"v":13},{"w":470,"p":250,"v":9},{"w":480,"p":250,"v":6},{"w":490,"p":250,"v":4},{"w":500,"p":250,"v":3},{"w":510,"p":250,"v":3},{"w":520,"p":250,"v":2},{"w":530,"p":250,"v":1},{"w":580,"p":250,"v":1},{"w":590,"p":250,"v":1},{"w":600,"p":250,"v":1},{"w":610,"p":250,"v":2},{"w":620,"p":250,"v":2},{"w":630,"p":250,"v":2},{"w":640,"p":250,"v":2},{"w":650,"p":250,"v":1},{"w":660,"p":250,"v":1},
  {"w":310,"p":260,"v":1},{"w":320,"p":260,"v":2},{"w":330,"p":260,"v":4},{"w":340,"p":260,"v":6},{"w":350,"p":260,"v":8},{"w":360,"p":260,"v":10},{"w":370,"p":260,"v":13},{"w":380,"p":260,"v":16},{"w":390,"p":260,"v":20},{"w":400,"p":260,"v":25},{"w":410,"p":260,"v":30},{"w":420,"p":260,"v":32},{"w":430,"p":260,"v":30},{"w":440,"p":260,"v":24},{"w":450,"p":260,"v":18},{"w":460,"p":260,"v":14},{"w":470,"p":260,"v":10},{"w":480,"p":260,"v":7},{"w":490,"p":260,"v":4},{"w":500,"p":260,"v":3},{"w":510,"p":260,"v":2},{"w":520,"p":260,"v":2},{"w":530,"p":260,"v":1},{"w":580,"p":260,"v":1},{"w":590,"p":260,"v":1},{"w":600,"p":260,"v":2},{"w":610,"p":260,"v":3},{"w":620,"p":260,"v":4},{"w":630,"p":260,"v":5},{"w":640,"p":260,"v":4},{"w":650,"p":260,"v":2},{"w":660,"p":260,"v":1},
  {"w":310,"p":270,"v":1},{"w":320,"p":270,"v":2},{"w":330,"p":270,"v":4},{"w":340,"p":270,"v":6},{"w":350,"p":270,"v":8},{"w":360,"p":270,"v":10},{"w":370,"p":270,"v":13},{"w":380,"p":270,"v":16},{"w":390,"p":270,"v":19},{"w":400,"p":270,"v":23},{"w":410,"p":270,"v":27},{"w":420,"p":270,"v":29},{"w":430,"p":270,"v":27},{"w":440,"p":270,"v":22},{"w":450,"p":270,"v":17},{"w":460,"p":270,"v":13},{"w":470,"p":270,"v":9},{"w":480,"p":270,"v":6},{"w":490,"p":270,"v":4},{"w":500,"p":270,"v":3},{"w":510,"p":270,"v":2},{"w":520,"p":270,"v":2},{"w":530,"p":270,"v":1},{"w":580,"p":270,"v":1},{"w":590,"p":270,"v":1},{"w":600,"p":270,"v":2},{"w":610,"p":270,"v":4},{"w":620,"p":270,"v":6},{"w":630,"p":270,"v":8},{"w":640,"p":270,"v":6},{"w":650,"p":270,"v":3},{"w":660,"p":270,"v":1},
  {"w":310,"p":280,"v":1},{"w":320,"p":280,"v":2},{"w":330,"p":280,"v":3},{"w":340,"p":280,"v":5},{"w":350,"p":280,"v":7},{"w":360,"p":280,"v":9},{"w":370,"p":280,"v":11},{"w":380,"p":280,"v":14},{"w":390,"p":280,"v":17},{"w":400,"p":280,"v":20},{"w":410,"p":280,"v":22},{"w":420,"p":280,"v":23},{"w":430,"p":280,"v":22},{"w":440,"p":280,"v":19},{"w":450,"p":280,"v":15},{"w":460,"p":280,"v":11},{"w":470,"p":280,"v":8},{"w":480,"p":280,"v":6},{"w":490,"p":280,"v":4},{"w":500,"p":280,"v":3},{"w":510,"p":280,"v":2},{"w":520,"p":280,"v":2},{"w":530,"p":280,"v":1},{"w":580,"p":280,"v":1},{"w":590,"p":280,"v":1},{"w":600,"p":280,"v":2},{"w":610,"p":280,"v":4},{"w":620,"p":280,"v":7},{"w":630,"p":280,"v":10},{"w":640,"p":280,"v":7},{"w":650,"p":280,"v":3},{"w":660,"p":280,"v":1},
  {"w":320,"p":290,"v":1},{"w":330,"p":290,"v":2},{"w":340,"p":290,"v":4},{"w":350,"p":290,"v":5},{"w":360,"p":290,"v":7},{"w":370,"p":290,"v":9},{"w":380,"p":290,"v":12},{"w":390,"p":290,"v":14},{"w":400,"p":290,"v":16},{"w":410,"p":290,"v":18},{"w":420,"p":290,"v":18},{"w":430,"p":290,"v":17},{"w":440,"p":290,"v":15},{"w":450,"p":290,"v":12},{"w":460,"p":290,"v":9},{"w":470,"p":290,"v":7},{"w":480,"p":290,"v":5},{"w":490,"p":290,"v":3},{"w":500,"p":290,"v":2},{"w":510,"p":290,"v":2},{"w":520,"p":290,"v":1},{"w":530,"p":290,"v":1},{"w":580,"p":290,"v":1},{"w":590,"p":290,"v":1},{"w":600,"p":290,"v":2},{"w":610,"p":290,"v":4},{"w":620,"p":290,"v":7},{"w":630,"p":290,"v":10},{"w":640,"p":290,"v":7},{"w":650,"p":290,"v":3},{"w":660,"p":290,"v":1},
  {"w":320,"p":300,"v":1},{"w":330,"p":300,"v":1},{"w":340,"p":300,"v":2},{"w":350,"p":300,"v":3},{"w":360,"p":300,"v":5},{"w":370,"p":300,"v":7},{"w":380,"p":300,"v":9},{"w":390,"p":300,"v":11},{"w":400,"p":300,"v":12},{"w":410,"p":300,"v":13},{"w":420,"p":300,"v":13},{"w":430,"p":300,"v":12},{"w":440,"p":300,"v":11},{"w":450,"p":300,"v":9},{"w":460,"p":300,"v":7},{"w":470,"p":300,"v":5},{"w":480,"p":300,"v":4},{"w":490,"p":300,"v":3},{"w":500,"p":300,"v":2},{"w":510,"p":300,"v":1},{"w":520,"p":300,"v":1},{"w":580,"p":300,"v":1},{"w":590,"p":300,"v":1},{"w":600,"p":300,"v":2},{"w":610,"p":300,"v":3},{"w":620,"p":300,"v":5},{"w":630,"p":300,"v":7},{"w":640,"p":300,"v":5},{"w":650,"p":300,"v":2},{"w":660,"p":300,"v":1},
  {"w":330,"p":310,"v":1},{"w":340,"p":310,"v":1},{"w":350,"p":310,"v":2},{"w":360,"p":310,"v":3},{"w":370,"p":310,"v":4},{"w":380,"p":310,"v":6},{"w":390,"p":310,"v":7},{"w":400,"p":310,"v":8},{"w":410,"p":310,"v":8},{"w":420,"p":310,"v":8},{"w":430,"p":310,"v":8},{"w":440,"p":310,"v":7},{"w":450,"p":310,"v":6},{"w":460,"p":310,"v":5},{"w":470,"p":310,"v":4},{"w":480,"p":310,"v":3},{"w":490,"p":310,"v":2},{"w":500,"p":310,"v":1},{"w":510,"p":310,"v":1},{"w":590,"p":310,"v":1},{"w":600,"p":310,"v":1},{"w":610,"p":310,"v":2},{"w":620,"p":310,"v":3},{"w":630,"p":310,"v":4},{"w":640,"p":310,"v":3},{"w":650,"p":310,"v":2},{"w":660,"p":310,"v":1},
  {"w":350,"p":320,"v":1},{"w":360,"p":320,"v":1},{"w":370,"p":320,"v":2},{"w":380,"p":320,"v":3},{"w":390,"p":320,"v":3},{"w":400,"p":320,"v":4},{"w":410,"p":320,"v":4},{"w":420,"p":320,"v":4},{"w":430,"p":320,"v":4},{"w":440,"p":320,"v":3},{"w":450,"p":320,"v":3},{"w":460,"p":320,"v":2},{"w":470,"p":320,"v":2},{"w":480,"p":320,"v":1},{"w":490,"p":320,"v":1},{"w":500,"p":320,"v":1},{"w":600,"p":320,"v":1},{"w":610,"p":320,"v":1},{"w":620,"p":320,"v":2},{"w":630,"p":320,"v":2},{"w":640,"p":320,"v":2},{"w":650,"p":320,"v":1},
  {"w":380,"p":330,"v":1},{"w":390,"p":330,"v":1},{"w":400,"p":330,"v":1},{"w":410,"p":330,"v":1},{"w":420,"p":330,"v":1},{"w":430,"p":330,"v":1},{"w":440,"p":330,"v":1},{"w":450,"p":330,"v":1},{"w":460,"p":330,"v":1},{"w":620,"p":330,"v":1},{"w":630,"p":330,"v":1}
 ]
},
"vconcat": [
 {
  "hconcat": [
   {
    "width": 430, "height": 317,
    "title": {"text": "a", "anchor": "start", "frame": "group", "orient": "top", "offset": 0, "dx": -85, "dy": 70, "baseline": "alphabetic", "fontSize": 32},
    "layer": [
     {
      "data": {"name": "eqe"},
      "mark": {"type": "line", "strokeWidth": 2, "interpolate": "monotone"},
      "encoding": {
       "x": {"field": "w", "type": "quantitative", "scale": {"domain": [300, 750], "nice": false, "zero": false}, "axis": {"orient": "bottom", "values": [300, 400, 500, 600, 700], "tickSize": -6, "labelPadding": 14, "title": "Wavelength (nm)", "titlePadding": 5}},
       "y": {"field": "e", "type": "quantitative", "scale": {"domain": [0, 13500], "nice": false, "zero": false}, "axis": {"orient": "left", "values": [0, 2000, 4000, 6000, 8000, 10000, 12000], "format": "d", "tickSize": -6, "labelPadding": 14, "title": "EQE (%)", "titlePadding": 6}},
       "color": {"field": "s", "type": "nominal", "scale": {"domain": ["19 V", "18 V", "17 V", "15 V", "10 V"], "range": ["#000000", "#ff0000", "#0000ff", "#008080", "#ff00ff"]},
        "legend": {"orient": "none", "legendX": 347, "legendY": 39, "title": null, "symbolType": "M-3.36,0L3.36,0", "symbolSize": 196, "symbolStrokeWidth": 2.5, "labelFont": "Liberation Sans", "labelFontSize": 18, "labelFontWeight": "bold", "labelColor": "black", "labelOffset": 21.5, "rowPadding": 6.5, "padding": 0}}
      }
     },
     {
      "data": {"name": "abs"},
      "mark": {"type": "line", "strokeWidth": 2},
      "encoding": {
       "x": {"field": "w", "type": "quantitative", "scale": {"domain": [300, 750], "nice": false, "zero": false}, "axis": {"orient": "bottom", "values": [350, 450, 550, 650], "tickSize": -3, "labels": false, "domain": false, "title": null}},
       "y": {"field": "a", "type": "quantitative", "scale": {"domain": [0, 1.1], "nice": false, "zero": false}, "axis": {"orient": "right", "values": [0, 0.2, 0.4, 0.6, 0.8, 1.0], "format": ".1f", "tickSize": -6, "labelPadding": 14, "domainColor": "#8000ff", "tickColor": "#8000ff", "labelColor": "#8000ff", "titleColor": "#8000ff", "title": "Absorption (a.u.)", "titleAngle": 270, "titleBaseline": "top", "titlePadding": 8}},
       "color": {"datum": "Abs of neat P3HT", "type": "nominal", "scale": {"range": ["#8000ff"]},
        "legend": {"orient": "none", "legendX": 154, "legendY": 10, "title": null, "symbolType": "M-3.36,0L3.36,0M-0.7,-0.7L0.7,-0.7L0.7,0.7L-0.7,0.7Z", "symbolSize": 196, "symbolStrokeWidth": 2.5, "labelFont": "Liberation Sans", "labelFontSize": 18, "labelFontWeight": "bold", "labelColor": "#8000ff", "labelOffset": 18, "padding": 0,
         "encode": {"symbols": {"update": {"fill": {"value": "#8000ff"}, "stroke": {"value": "#8000ff"}}}}}}
      }
     },
     {
      "data": {"name": "abs"},
      "mark": {"type": "square", "filled": true, "color": "#8000ff", "size": 64, "opacity": 1},
      "encoding": {
       "x": {"field": "w", "type": "quantitative", "scale": {"domain": [300, 750], "nice": false, "zero": false}, "axis": {"orient": "top", "values": [300, 400, 500, 600, 700], "tickSize": -6, "labels": false, "domain": false, "title": null}},
       "y": {"field": "a", "type": "quantitative", "scale": {"domain": [0, 1.1], "nice": false, "zero": false}, "axis": {"orient": "right", "values": [0.1, 0.3, 0.5, 0.7, 0.9], "tickSize": -3, "labels": false, "domain": false, "title": null, "tickColor": "#8000ff"}}
      }
     },
     {
      "data": {"values": [{"w": 520, "lo": 3750, "hi": 12340}, {"w": 555, "lo": 4040, "hi": 11700}, {"w": 590, "lo": 2040, "hi": 7790}, {"w": 604, "lo": 2130, "hi": 7790}]},
      "mark": {"type": "rule", "strokeWidth": 2, "color": "black"},
      "encoding": {
       "x": {"field": "w", "type": "quantitative", "scale": {"domain": [300, 750], "nice": false, "zero": false}, "axis": {"orient": "top", "values": [350, 450, 550, 650], "tickSize": -3, "labels": false, "domain": false, "title": null}},
       "y": {"field": "lo", "type": "quantitative", "scale": {"domain": [0, 13500], "nice": false, "zero": false}, "axis": {"orient": "left", "values": [1000, 3000, 5000, 7000, 9000, 11000, 13000], "tickSize": -3, "labels": false, "domain": false, "title": null}},
       "y2": {"field": "hi"}
      }
     },
     {
      "data": {"values": [{"w": 520, "y": 12130, "d": "up"}, {"w": 520, "y": 3960, "d": "down"}, {"w": 555, "y": 11490, "d": "up"}, {"w": 555, "y": 4250, "d": "down"}, {"w": 590, "y": 7580, "d": "up"}, {"w": 590, "y": 2250, "d": "down"}, {"w": 604, "y": 7580, "d": "up"}, {"w": 604, "y": 2340, "d": "down"}]},
      "mark": {"type": "point", "filled": true, "color": "black", "size": 70, "opacity": 1},
      "encoding": {
       "x": {"field": "w", "type": "quantitative", "scale": {"domain": [300, 750], "nice": false, "zero": false}, "axis": null},
       "y": {"field": "y", "type": "quantitative", "scale": {"domain": [0, 13500], "nice": false, "zero": false}, "axis": null},
       "shape": {"field": "d", "type": "nominal", "scale": {"domain": ["up", "down"], "range": ["triangle-up", "triangle-down"]}, "legend": null}
      }
     }
    ],
    "resolve": {"scale": {"y": "independent", "color": "independent"}, "axis": {"x": "independent", "y": "independent"}, "legend": {"color": "independent"}}
   },
   {
    "width": 434, "height": 320,
    "title": {"text": "b", "anchor": "start", "frame": "group", "orient": "top", "offset": 0, "dx": -65, "dy": 52, "baseline": "alphabetic", "fontSize": 32},
    "layer": [
     {
      "data": {"name": "norm"},
      "mark": {"type": "line", "strokeWidth": 2.5, "interpolate": "monotone"},
      "encoding": {
       "x": {"field": "w", "type": "quantitative", "scale": {"domain": [300, 750], "nice": false, "zero": false}, "axis": {"orient": "bottom", "values": [300, 400, 500, 600, 700], "tickSize": -6, "labelPadding": 14, "title": "Wavelength (nm)", "titlePadding": 5}},
       "y": {"field": "n", "type": "quantitative", "scale": {"domain": [0, 1.1], "nice": false, "zero": false}, "axis": {"orient": "left", "values": [0, 0.2, 0.4, 0.6, 0.8, 1.0], "format": ".1f", "tickSize": -6, "labelPadding": 12, "title": "Normalized EQE (a.u.)", "titlePadding": 10}},
       "color": {"field": "s", "type": "nominal", "scale": {"domain": ["-19 V", "-18 V", "-17 V", "-15 V", "-10 V"], "range": ["#000000", "#ff0000", "#0000ff", "#008080", "#ff00ff"]},
        "legend": {"orient": "none", "legendX": 348, "legendY": 6, "title": null, "symbolType": "M-3.07,0L3.07,0", "symbolSize": 196, "symbolStrokeWidth": 2.5, "labelFont": "Liberation Sans", "labelFontSize": 18, "labelFontWeight": "bold", "labelColor": "black", "labelOffset": 20, "rowPadding": 6.7, "padding": 0}}
      }
     },
     {
      "data": {"values": [{"w": 535, "lo": 0.09, "hi": 0.4}]},
      "mark": {"type": "rule", "strokeWidth": 2.5, "color": "black"},
      "encoding": {
       "x": {"field": "w", "type": "quantitative", "scale": {"domain": [300, 750], "nice": false, "zero": false}, "axis": {"orient": "bottom", "values": [350, 450, 550, 650], "tickSize": -3, "labels": false, "domain": false, "title": null}},
       "y": {"field": "lo", "type": "quantitative", "scale": {"domain": [0, 1.1], "nice": false, "zero": false}, "axis": {"orient": "left", "values": [0.1, 0.3, 0.5, 0.7, 0.9], "tickSize": -3, "labels": false, "domain": false, "title": null}},
       "y2": {"field": "hi"}
      }
     },
     {
      "data": {"values": [{"w": 535, "y": 0.405}]},
      "mark": {"type": "point", "shape": "triangle-up", "filled": true, "color": "black", "size": 110, "opacity": 1},
      "encoding": {
       "x": {"field": "w", "type": "quantitative", "scale": {"domain": [300, 750], "nice": false, "zero": false}, "axis": {"orient": "top", "values": [300, 400, 500, 600, 700], "tickSize": -6, "labels": false, "domain": false, "title": null}},
       "y": {"field": "y", "type": "quantitative", "scale": {"domain": [0, 1.1], "nice": false, "zero": false}, "axis": null}
      }
     },
     {
      "data": {"values": [{"w": 535, "y": 0.465, "t": "19 V"}, {"w": 532, "y": 0.048, "t": "10 V"}]},
      "mark": {"type": "text", "font": "Liberation Sans", "fontWeight": "bold", "fontSize": 18, "color": "black", "align": "center", "baseline": "middle"},
      "encoding": {
       "x": {"field": "w", "type": "quantitative", "scale": {"domain": [300, 750], "nice": false, "zero": false}, "axis": {"orient": "top", "values": [350, 450, 550, 650], "tickSize": -3, "labels": false, "domain": false, "title": null}},
       "y": {"field": "y", "type": "quantitative", "scale": {"domain": [0, 1.1], "nice": false, "zero": false}, "axis": null},
       "text": {"field": "t"}
      }
     }
    ],
    "resolve": {"axis": {"x": "independent", "y": "independent"}}
   }
  ],
  "spacing": 160,
  "bounds": "flush",
  "resolve": {"scale": {"x": "independent", "y": "independent", "color": "independent"}, "legend": {"color": "independent"}}
 },
 {
  "hconcat": [
   {
    "width": 207.5, "height": 350,
    "view": {"stroke": null},
    "title": {"text": "c", "anchor": "start", "frame": "group", "orient": "top", "offset": 0, "dx": 190.5, "dy": 33, "baseline": "alphabetic", "fontSize": 32},
    "data": {"values": [{"t": ""}]},
    "mark": {"type": "text"},
    "encoding": {"text": {"field": "t"}}
   },
   {
    "width": 434, "height": 350,
    "title": {"text": "Normalized photogenerated electron distribution (a.u.)", "anchor": "start", "frame": "group", "orient": "top", "offset": 0, "dx": -38, "dy": 18, "baseline": "alphabetic", "fontSize": 20.5},
    "layer": [
     {
      "data": {"name": "heat"},
      "mark": {"type": "rect", "binSpacing": 0, "strokeWidth": 0},
      "encoding": {
       "x": {"field": "w", "type": "quantitative", "bin": {"step": 10, "extent": [300, 700]}, "scale": {"domain": [300, 700], "nice": false, "zero": false}, "axis": null},
       "y": {"field": "p", "type": "quantitative", "bin": {"step": 10, "extent": [0, 400]}, "scale": {"domain": [0, 400], "reverse": true, "nice": false, "zero": false}, "axis": null},
       "color": {"field": "v", "type": "quantitative", "scale": {"domain": [0, 50], "range": ["#ececec", "#000000"]},
        "legend": {"orient": "none", "legendX": 443, "legendY": 20, "direction": "vertical", "gradientLength": 151, "gradientThickness": 17, "title": null, "values": [0, 50], "labelExpr": "datum.value == 50 ? '50.00' : '0'", "labelFont": "Liberation Sans", "labelFontSize": 12, "labelFontWeight": "bold", "labelColor": "black", "labelOffset": 6, "gradientStrokeWidth": 0}}
      }
     },
     {
      "data": {"values": [{"p": 120}, {"p": 140}, {"p": 340}]},
      "mark": {"type": "rule", "strokeWidth": 2, "color": "black"},
      "encoding": {
       "y": {"field": "p", "type": "quantitative", "scale": {"domain": [0, 400], "reverse": true, "nice": false, "zero": false}, "axis": {"orient": "left", "values": [0, 50, 100, 150, 200, 250, 300, 350, 400], "tickSize": -8, "labelPadding": 17, "labelFontSize": 19, "title": "Position in device (nm)", "titleFontSize": 26, "titlePadding": 4}}
      }
     },
     {
      "data": {"values": [{"w": 450, "lo": 140, "hi": 340}, {"w": 550, "lo": 140, "hi": 340}]},
      "mark": {"type": "rule", "strokeWidth": 2.5, "color": "black", "strokeDash": [8, 6]},
      "encoding": {
       "x": {"field": "w", "type": "quantitative", "scale": {"domain": [300, 700], "nice": false, "zero": false}, "axis": {"orient": "bottom", "values": [300, 350, 400, 450, 500, 550, 600, 650, 700], "tickSize": -8, "labelPadding": 17, "labelFontSize": 19, "title": "Wavelength (nm)", "titleFontSize": 26, "titlePadding": -4}},
       "y": {"field": "lo", "type": "quantitative", "scale": {"domain": [0, 400], "reverse": true, "nice": false, "zero": false}, "axis": {"orient": "left", "values": [25, 75, 125, 175, 225, 275, 325, 375], "tickSize": -5, "labels": false, "domain": false, "title": null}},
       "y2": {"field": "hi"}
      }
     },
     {
      "data": {"values": [{"w": 400, "lab": "400 nm", "lo": 24, "hi": 392}, {"w": 520, "lab": "520 nm", "lo": 24, "hi": 392}, {"w": 625, "lab": "625 nm", "lo": 24, "hi": 392}]},
      "mark": {"type": "rule", "strokeWidth": 1.5},
      "encoding": {
       "x": {"field": "w", "type": "quantitative", "scale": {"domain": [300, 700], "nice": false, "zero": false}, "axis": {"orient": "bottom", "values": [325, 375, 425, 475, 525, 575, 625, 675], "tickSize": -5, "labels": false, "domain": false, "title": null}},
       "y": {"field": "lo", "type": "quantitative", "scale": {"domain": [0, 400], "reverse": true, "nice": false, "zero": false}, "axis": null},
       "y2": {"field": "hi"},
       "color": {"field": "lab", "type": "nominal", "scale": {"domain": ["400 nm", "520 nm", "625 nm"], "range": ["#1a1aff", "#1e8c1e", "#ff2020"]}, "legend": null}
      }
     },
     {
      "data": {"values": [{"w": 400, "lab": "400 nm", "p": 394}, {"w": 520, "lab": "520 nm", "p": 394}, {"w": 625, "lab": "625 nm", "p": 394}]},
      "mark": {"type": "point", "shape": "triangle-down", "filled": true, "size": 60, "opacity": 1},
      "encoding": {
       "x": {"field": "w", "type": "quantitative", "scale": {"domain": [300, 700], "nice": false, "zero": false}, "axis": null},
       "y": {"field": "p", "type": "quantitative", "scale": {"domain": [0, 400], "reverse": true, "nice": false, "zero": false}, "axis": null},
       "color": {"field": "lab", "type": "nominal", "scale": {"domain": ["400 nm", "520 nm", "625 nm"], "range": ["#1a1aff", "#1e8c1e", "#ff2020"]}, "legend": null}
      }
     },
     {
      "data": {"values": [{"w": 402, "lab": "400 nm", "p": 14}, {"w": 520, "lab": "520 nm", "p": 14}, {"w": 625, "lab": "625 nm", "p": 14}]},
      "mark": {"type": "text", "font": "Liberation Sans", "fontWeight": "bold", "fontSize": 14, "align": "center", "baseline": "middle"},
      "encoding": {
       "x": {"field": "w", "type": "quantitative", "scale": {"domain": [300, 700], "nice": false, "zero": false}, "axis": null},
       "y": {"field": "p", "type": "quantitative", "scale": {"domain": [0, 400], "reverse": true, "nice": false, "zero": false}, "axis": null},
       "text": {"field": "lab"},
       "color": {"field": "lab", "type": "nominal", "scale": {"domain": ["400 nm", "520 nm", "625 nm"], "range": ["#1a1aff", "#1e8c1e", "#ff2020"]}, "legend": null}
      }
     },
     {
      "data": {"values": [{"w": 307, "p": 9, "t": "ITO"}, {"w": 307, "p": 130.5, "t": "PEDOT:PSS"}, {"w": 307, "p": 149.5, "t": "active layer"}, {"w": 307, "p": 351, "t": "Al"}]},
      "mark": {"type": "text", "font": "Liberation Sans", "fontWeight": "bold", "fontSize": 14, "align": "left", "baseline": "middle", "color": "black"},
      "encoding": {
       "x": {"field": "w", "type": "quantitative", "scale": {"domain": [300, 700], "nice": false, "zero": false}, "axis": null},
       "y": {"field": "p", "type": "quantitative", "scale": {"domain": [0, 400], "reverse": true, "nice": false, "zero": false}, "axis": null},
       "text": {"field": "t"}
      }
     },
     {
      "data": {"values": [{"a": 305, "b": 347, "p": 235}, {"a": 415, "b": 449, "p": 235}, {"a": 453, "b": 464, "p": 235}, {"a": 530, "b": 547, "p": 235}, {"a": 553, "b": 586, "p": 235}, {"a": 655, "b": 695, "p": 235}]},
      "mark": {"type": "rule", "strokeWidth": 1.2, "color": "black"},
      "encoding": {
       "x": {"field": "a", "type": "quantitative", "scale": {"domain": [300, 700], "nice": false, "zero": false}, "axis": null},
       "x2": {"field": "b"},
       "y": {"field": "p", "type": "quantitative", "scale": {"domain": [0, 400], "reverse": true, "nice": false, "zero": false}, "axis": null}
      }
     },
     {
      "data": {"values": [{"w": 306, "p": 235, "d": "l"}, {"w": 447.5, "p": 235, "d": "r"}, {"w": 454.5, "p": 235, "d": "l"}, {"w": 545.5, "p": 235, "d": "r"}, {"w": 554.5, "p": 235, "d": "l"}, {"w": 694, "p": 235, "d": "r"}]},
      "mark": {"type": "point", "filled": true, "color": "black", "size": 40, "opacity": 1},
      "encoding": {
       "x": {"field": "w", "type": "quantitative", "scale": {"domain": [300, 700], "nice": false, "zero": false}, "axis": null},
       "y": {"field": "p", "type": "quantitative", "scale": {"domain": [0, 400], "reverse": true, "nice": false, "zero": false}, "axis": null},
       "shape": {"field": "d", "type": "nominal", "scale": {"domain": ["l", "r"], "range": ["triangle-left", "triangle-right"]}, "legend": null}
      }
     },
     {
      "data": {"values": [{"w": 381, "p": 233, "t": "zone A"}, {"w": 497, "p": 233, "t": "zone B"}, {"w": 621, "p": 233, "t": "zone C"}]},
      "mark": {"type": "text", "font": "Liberation Sans", "fontSize": 21, "align": "center", "baseline": "middle", "color": "black"},
      "encoding": {
       "x": {"field": "w", "type": "quantitative", "scale": {"domain": [300, 700], "nice": false, "zero": false}, "axis": null},
       "y": {"field": "p", "type": "quantitative", "scale": {"domain": [0, 400], "reverse": true, "nice": false, "zero": false}, "axis": null},
       "text": {"field": "t"}
      }
     },
     {
      "data": {"values": [{"w": 408, "p": 266, "z": "A"}, {"w": 626, "p": 286, "z": "C"}]},
      "mark": {"type": "point", "shape": "circle", "filled": false, "strokeWidth": 3, "strokeDash": [10, 7], "opacity": 1},
      "encoding": {
       "x": {"field": "w", "type": "quantitative", "scale": {"domain": [300, 700], "nice": false, "zero": false}, "axis": null},
       "y": {"field": "p", "type": "quantitative", "scale": {"domain": [0, 400], "reverse": true, "nice": false, "zero": false}, "axis": null},
       "size": {"field": "z", "type": "ordinal", "scale": {"domain": ["A", "C"], "range": [5809, 2922]}, "legend": null},
       "color": {"field": "z", "type": "nominal", "scale": {"domain": ["A", "C"], "range": ["#0a3cff", "#ff1a1a"]}, "legend": null}
      }
     }
    ],
    "resolve": {"scale": {"color": "independent"}, "axis": {"x": "independent", "y": "independent"}, "legend": {"color": "independent"}}
   }
  ],
  "spacing": 52,
  "bounds": "flush",
  "resolve": {"scale": {"x": "independent", "y": "independent", "color": "independent"}}
 }
],
"spacing": 413,
"bounds": "flush",
"resolve": {"scale": {"x": "independent", "y": "independent", "color": "independent"}, "legend": {"color": "independent"}}
}
